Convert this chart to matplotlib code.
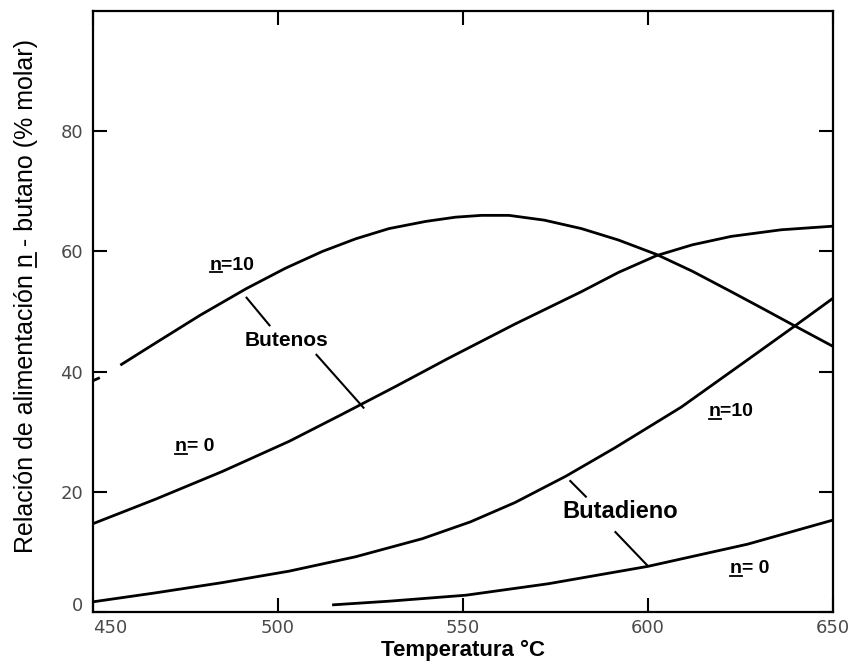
import matplotlib
matplotlib.use("Agg")
import matplotlib.pyplot as plt
from matplotlib.lines import Line2D
from matplotlib.transforms import ScaledTranslation

# Butenos, n = 10 (small piece at the axis, then the main curve)
bn10_stub_T = [450, 451.5]
bn10_stub_V = [38.5, 38.9]
bn10_T = [457.7, 467, 479, 491.4, 502, 512, 521, 530, 540, 548, 555, 562.4, 572, 582, 592, 602.3, 612, 622.5, 631, 639.7, 650]
bn10_V = [41.2, 44.8, 49.4, 53.8, 57.2, 60.0, 62.1, 63.8, 65.0, 65.7, 66.0, 66.0, 65.2, 63.8, 61.9, 59.5, 56.7, 53.3, 50.5, 47.6, 44.2]

# Butenos, n = 0
bn0_T = [450, 467, 485, 503, 517, 532, 546, 564, 582, 592, 602.3, 612, 622.5, 636, 650]
bn0_V = [14.7, 18.8, 23.4, 28.4, 32.8, 37.6, 42.2, 47.9, 53.3, 56.5, 59.3, 61.1, 62.5, 63.6, 64.2]

# Butadieno, n = 10
bd10_T = [450, 467, 485, 503, 521, 539, 552, 564, 577.8, 591, 609, 627, 639.7, 650]
bd10_V = [1.7, 3.2, 4.9, 6.8, 9.2, 12.2, 15.0, 18.2, 22.6, 27.3, 34.1, 42.0, 47.6, 52.2]

# Butadieno, n = 0
bd0_T = [515, 530, 550.8, 573, 600, 627, 650]
bd0_V = [1.2, 1.8, 2.8, 4.7, 7.6, 11.3, 15.3]

xticks = [450, 500, 550, 600, 650]
yticks = [0, 20, 40, 60, 80]

fig = plt.figure(figsize=(8.59, 6.68), dpi=100)
ax = fig.add_axes([0.1083, 0.0838, 0.8614, 0.8997])

lw = 2.0
ax.plot(bn10_stub_T, bn10_stub_V, color="black", lw=lw)
ax.plot(bn10_T, bn10_V, color="black", lw=lw)
ax.plot(bn0_T, bn0_V, color="black", lw=lw)
ax.plot(bd10_T, bd10_V, color="black", lw=lw)
ax.plot(bd0_T, bd0_V, color="black", lw=lw)

# pointer strokes
ax.plot([491.5, 497.7], [52.3, 47.7], color="black", lw=1.5)
ax.plot([510.4, 523.1], [42.8, 34.0], color="black", lw=1.5)
ax.plot([579.0, 583.2], [21.8, 19.2], color="black", lw=1.5)
ax.plot([591.2, 599.9], [13.3, 7.7], color="black", lw=1.5)

lab = dict(family=["Liberation Sans", "DejaVu Sans"], weight="bold", ha="center", va="center")
t1 = ax.text(487.7, 57.7, "n=10", fontsize=14, **lab)
ax.text(502.3, 45.2, "Butenos", fontsize=15, **lab)
t2 = ax.text(477.5, 27.5, "n= 0", fontsize=14, **lab)
t3 = ax.text(622.5, 33.3, "n=10", fontsize=14, **lab)
ax.text(592.6, 16.7, "Butadieno", fontsize=17, **lab)
t4 = ax.text(627.6, 7.2, "n= 0", fontsize=14, **lab)

ax.set_xlim(450, 650)
ax.set_ylim(0, 100)
ax.set_xticks(xticks)
ax.set_yticks(yticks)
ax.tick_params(direction="in", top=True, right=True, length=10, width=1.5,
               labelsize=13, labelcolor="#4a4a4a", pad=7)
ax.tick_params(axis="x", pad=5)
for s in ax.spines.values():
    s.set_linewidth(1.6)

# corner labels: 450 sits right of its tick, 0 a bit above the axis line
ax.get_xticklabels()[0].set_horizontalalignment("left")
lbl0 = ax.get_yticklabels()[0]
lbl0.set_transform(lbl0.get_transform() + ScaledTranslation(0, 6 / 72, fig.dpi_scale_trans))

ax.set_xlabel("Temperatura °C", fontsize=16, fontweight="bold",
              family=["Liberation Sans", "DejaVu Sans"], labelpad=2)
yl = ax.set_ylabel("Relación de alimentación n - butano (% molar)", fontsize=18,
                   family=["Liberation Sans", "DejaVu Sans"])
ax.yaxis.set_label_coords(-0.0743, 0.526)


def underline(txt, prefix, ch, vertical=False):
    # draw a line under the character ch that follows prefix in txt
    fig.canvas.draw()
    r = fig.canvas.get_renderer()
    fp = txt.get_fontproperties()
    px = fp.get_size_in_points() * fig.dpi / 72
    w_end = r.get_text_width_height_descent(prefix + ch, fp, ismath=False)[0]
    w_ch = r.get_text_width_height_descent(ch, fp, ismath=False)[0]
    d_full = r.get_text_width_height_descent(txt.get_text(), fp, ismath=False)[2]
    d_lp = r.get_text_width_height_descent("lp", fp, ismath=False)[2]
    d = max(d_full, d_lp)
    bb = txt.get_window_extent(r)
    off = 0.13 * px
    if vertical:
        x = bb.x1 - d + off
        xs = [x, x]
        ys = [bb.y0 + w_end - w_ch, bb.y0 + w_end]
    else:
        y = bb.y0 + d - off
        xs = [bb.x0 + w_end - w_ch, bb.x0 + w_end]
        ys = [y, y]
    pts = fig.transFigure.inverted().transform(list(zip(xs, ys)))
    fig.add_artist(Line2D(pts[:, 0], pts[:, 1], color="black", lw=1.3,
                          transform=fig.transFigure))


for t in [t1, t2, t3, t4]:
    underline(t, "", "n")
underline(yl, "Relación de alimentación ", "n", vertical=True)

fig.savefig("out.png", dpi=100)
